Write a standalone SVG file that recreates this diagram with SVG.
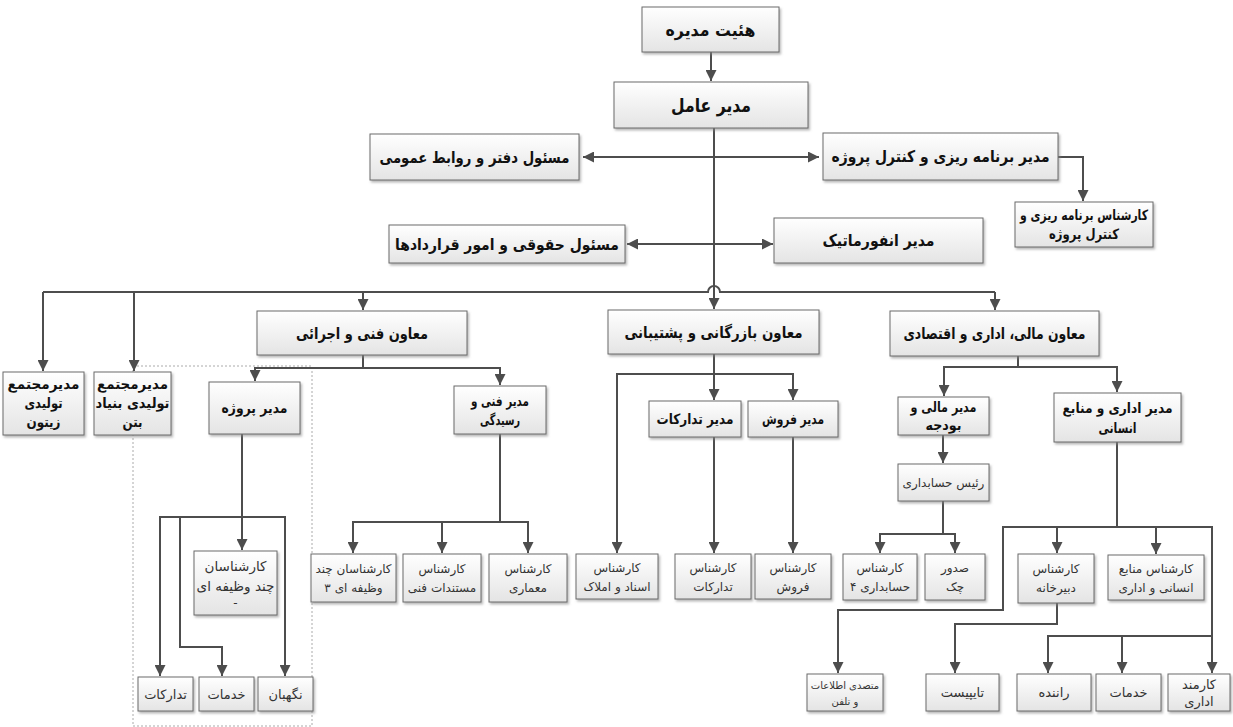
<svg xmlns="http://www.w3.org/2000/svg" width="1233" height="727" viewBox="0 0 1233 727">
<defs>
<linearGradient id="g" x1="0" y1="0" x2="0" y2="1">
<stop offset="0" stop-color="#ffffff"/>
<stop offset="1" stop-color="#e4e4e4"/>
</linearGradient>
<filter id="sh" x="-10%" y="-10%" width="130%" height="140%">
<feDropShadow dx="1.5" dy="2" stdDeviation="1" flood-color="#888" flood-opacity="0.6"/>
</filter>
<marker id="a" viewBox="0 0 10 10" refX="10" refY="5" markerWidth="11" markerHeight="11" markerUnits="userSpaceOnUse" orient="auto-start-reverse">
<path d="M0,0 L10,5 L0,10 z" fill="#4d4d4d"/>
</marker>
<style>
.b{fill:url(#g);stroke:#6a6a6a;stroke-width:1;filter:url(#sh)}
.t{font-family:"DejaVu Sans",sans-serif;font-weight:bold;font-size:16px;text-anchor:middle;fill:#111;direction:rtl}
.m{font-size:14px}
.s{font-family:"DejaVu Sans",sans-serif;font-weight:normal;font-size:12px;text-anchor:middle;fill:#333;direction:rtl}
.c{fill:none;stroke:#4d4d4d;stroke-width:2}
.e{marker-end:url(#a)}
.d{marker-start:url(#a);marker-end:url(#a)}
.dot{fill:none;stroke:#aaa;stroke-width:1;stroke-dasharray:2,2}
</style>
</defs>
<rect width="1233" height="727" fill="#fff"/>
<rect class="dot" x="133" y="366" width="179" height="360"/>

<g id="connectors">
<path class="c e" d="M711,52 V81"/>
<path class="c e" d="M714,128 V309"/>
<path class="c d" d="M583,157 H819"/>
<path class="c d" d="M627,244 H773"/>
<path class="c e" d="M1058,157 H1083 V201"/>
<path class="c" d="M43,292 H708 A6,6 0 0 1 720,292 H995"/>
<path class="c e" d="M43,292 V371"/>
<path class="c e" d="M134,292 V371"/>
<path class="c e" d="M363,292 V310"/>
<path class="c e" d="M995,292 V310"/>
<path class="c" d="M363,355 V368 H255"/>
<path class="c e" d="M255,367 V381"/>
<path class="c e" d="M363,368 H500 V385"/>
<path class="c" d="M242,434 V517"/>
<path class="c" d="M160,517 H285"/>
<path class="c e" d="M242,517 V550"/>
<path class="c e" d="M160,516 V676"/>
<path class="c e" d="M180,517 V647 H222 V676"/>
<path class="c e" d="M285,516 V676"/>
<path class="c" d="M500,434 V522 H353"/>
<path class="c" d="M500,522 H528"/>
<path class="c e" d="M353,521 V553"/>
<path class="c e" d="M442,522 V553"/>
<path class="c e" d="M528,521 V553"/>
<path class="c" d="M714,354 V374 H617"/>
<path class="c e" d="M617,373 V553"/>
<path class="c e" d="M714,374 V400"/>
<path class="c e" d="M714,374 H793 V400"/>
<path class="c e" d="M714,437 V553"/>
<path class="c e" d="M793,437 V553"/>
<path class="c" d="M1018,356 V367 H944"/>
<path class="c e" d="M944,366 V396"/>
<path class="c e" d="M1018,367 H1117 V392"/>
<path class="c e" d="M943,435 V463"/>
<path class="c" d="M943,501 V534 H880"/>
<path class="c e" d="M880,533 V553"/>
<path class="c e" d="M943,534 H955 V553"/>
<path class="c" d="M1117,442 V527 H1003"/>
<path class="c" d="M1117,527 H1212"/>
<path class="c e" d="M1057,527 V553"/>
<path class="c e" d="M1156,527 V554"/>
<path class="c e" d="M1003,526 V610 H838 V673"/>
<path class="c e" d="M1212,526 V673"/>
<path class="c e" d="M1057,603 V624 H955 V673"/>
<path class="c e" d="M1212,636 H1048 V673"/>
<path class="c e" d="M1122,636 V673"/>
</g>

<g id="n1"><rect class="b" x="642" y="7" width="137" height="45"/><text class="t" x="710.5" y="36" style="font-size:17px" textLength="90" lengthAdjust="spacingAndGlyphs">هئیت مدیره</text></g>
<g id="n2"><rect class="b" x="614" y="82" width="194" height="46"/><text class="t" x="711" y="112" style="font-size:19px" textLength="80" lengthAdjust="spacingAndGlyphs">مدیر عامل</text></g>
<g id="n3"><rect class="b" x="370" y="134" width="209" height="46"/><text class="t" x="474.5" y="163" textLength="190" lengthAdjust="spacingAndGlyphs">مسئول دفتر و روابط عمومی</text></g>
<g id="n4"><rect class="b" x="823" y="133" width="235" height="47"/><text class="t" x="940.5" y="162" textLength="218" lengthAdjust="spacingAndGlyphs">مدیر برنامه ریزی و کنترل پروژه</text></g>
<g id="n5"><rect class="b" x="1015" y="202" width="138" height="45"/><text class="t m" x="1084" y="220" textLength="128" lengthAdjust="spacingAndGlyphs">کارشناس برنامه ریزی و</text><text class="t m" x="1084" y="239" textLength="70" lengthAdjust="spacingAndGlyphs">کنترل پروژه</text></g>
<g id="n6"><rect class="b" x="389" y="225" width="236" height="38"/><text class="t" x="507" y="250" textLength="224" lengthAdjust="spacingAndGlyphs">مسئول حقوقی و امور قراردادها</text></g>
<g id="n7"><rect class="b" x="774" y="218" width="209" height="45"/><text class="t" x="878.5" y="246" textLength="112" lengthAdjust="spacingAndGlyphs">مدیر انفورماتیک</text></g>
<g id="n8"><rect class="b" x="257" y="311" width="210" height="44"/><text class="t" x="362" y="339" textLength="132" lengthAdjust="spacingAndGlyphs">معاون فنی و اجرائی</text></g>
<g id="n9"><rect class="b" x="608" y="310" width="211" height="44"/><text class="t" x="713.5" y="338" textLength="178" lengthAdjust="spacingAndGlyphs">معاون بازرگانی و پشتیبانی</text></g>
<g id="n10"><rect class="b" x="890" y="311" width="209" height="45"/><text class="t" x="994.5" y="339" textLength="182" lengthAdjust="spacingAndGlyphs">معاون مالی، اداری و اقتصادی</text></g>
<g id="n11"><rect class="b" x="3" y="372" width="81" height="63"/><text class="t m" x="43.5" y="389" textLength="72" lengthAdjust="spacingAndGlyphs">مدیرمجتمع</text><text class="t m" x="43.5" y="408" textLength="38" lengthAdjust="spacingAndGlyphs">تولیدی</text><text class="t m" x="43.5" y="427" textLength="34" lengthAdjust="spacingAndGlyphs">زیتون</text></g>
<g id="n12"><rect class="b" x="94" y="372" width="77" height="63"/><text class="t m" x="132.5" y="389" textLength="71" lengthAdjust="spacingAndGlyphs">مدیرمجتمع</text><text class="t m" x="132.5" y="408" textLength="74" lengthAdjust="spacingAndGlyphs">تولیدی بنیاد</text><text class="t m" x="132.5" y="427" textLength="20" lengthAdjust="spacingAndGlyphs">بتن</text></g>
<g id="n13"><rect class="b" x="209" y="382" width="91" height="52"/><text class="t m" x="254.5" y="413" textLength="66" lengthAdjust="spacingAndGlyphs">مدیر پروژه</text></g>
<g id="n14"><rect class="b" x="454" y="386" width="92" height="48"/><text class="t m" x="500" y="406" textLength="58" lengthAdjust="spacingAndGlyphs">مدیر فنی و</text><text class="t m" x="500" y="425" textLength="40" lengthAdjust="spacingAndGlyphs">رسیدگی</text></g>
<g id="n15"><rect class="b" x="649" y="401" width="92" height="36"/><text class="t m" x="695" y="424" textLength="77" lengthAdjust="spacingAndGlyphs">مدیر تدارکات</text></g>
<g id="n16"><rect class="b" x="748" y="401" width="90" height="36"/><text class="t m" x="793" y="424" textLength="62" lengthAdjust="spacingAndGlyphs">مدیر فروش</text></g>
<g id="n17"><rect class="b" x="898" y="397" width="91" height="38"/><text class="t m" x="943.5" y="412" textLength="66" lengthAdjust="spacingAndGlyphs">مدیر مالی و</text><text class="t m" x="943.5" y="430" textLength="36" lengthAdjust="spacingAndGlyphs">بودجه</text></g>
<g id="n18"><rect class="b" x="1054" y="393" width="127" height="49"/><text class="t m" x="1117.5" y="413" textLength="110" lengthAdjust="spacingAndGlyphs">مدیر اداری و منابع</text><text class="t m" x="1117.5" y="433" textLength="38" lengthAdjust="spacingAndGlyphs">انسانی</text></g>
<g id="n19"><rect class="b" x="898" y="464" width="91" height="37"/><text class="s" x="943.5" y="487">رئیس حسابداری</text></g>
<g id="n20"><rect class="b" x="194" y="551" width="83" height="64"/><text class="s" x="235.5" y="571" style="font-size:13.5px">کارشناسان</text><text class="s" x="235.5" y="591" style="font-size:13.5px">چند وظیفه ای</text><text class="s" x="235.5" y="607">-</text></g>
<g id="n21"><rect class="b" x="138" y="677" width="55" height="34"/><text class="s" x="165.5" y="699" style="font-size:13px">تدارکات</text></g>
<g id="n22"><rect class="b" x="199" y="677" width="55" height="34"/><text class="s" x="226.5" y="699" style="font-size:13px">خدمات</text></g>
<g id="n23"><rect class="b" x="258" y="677" width="55" height="34"/><text class="s" x="285.5" y="699" style="font-size:13px">نگهبان</text></g>
<g id="n24"><rect class="b" x="311" y="554" width="85" height="48"/><text class="s" x="353.5" y="573">کارشناسان چند</text><text class="s" x="353.5" y="592">وظیفه ای ۳</text></g>
<g id="n25"><rect class="b" x="403" y="554" width="78" height="48"/><text class="s" x="442" y="573">کارشناس</text><text class="s" x="442" y="592">مستندات فنی</text></g>
<g id="n26"><rect class="b" x="489" y="554" width="78" height="48"/><text class="s" x="528" y="573">کارشناس</text><text class="s" x="528" y="592">معماری</text></g>
<g id="n27"><rect class="b" x="576" y="554" width="82" height="45"/><text class="s" x="617" y="572">کارشناس</text><text class="s" x="617" y="591">اسناد و املاک</text></g>
<g id="n28"><rect class="b" x="675" y="554" width="76" height="45"/><text class="s" x="713" y="572">کارشناس</text><text class="s" x="713" y="591">تدارکات</text></g>
<g id="n29"><rect class="b" x="755" y="554" width="76" height="45"/><text class="s" x="793" y="572">کارشناس</text><text class="s" x="793" y="591">فروش</text></g>
<g id="n30"><rect class="b" x="843" y="554" width="74" height="46"/><text class="s" x="880" y="572">کارشناس</text><text class="s" x="880" y="591">حسابداری ۴</text></g>
<g id="n31"><rect class="b" x="925" y="554" width="60" height="46"/><text class="s" x="955" y="572">صدور</text><text class="s" x="955" y="591">چک</text></g>
<g id="n32"><rect class="b" x="1018" y="554" width="76" height="49"/><text class="s" x="1056" y="573">کارشناس</text><text class="s" x="1056" y="592">دبیرخانه</text></g>
<g id="n33"><rect class="b" x="1108" y="555" width="96" height="45"/><text class="s" x="1156" y="573">کارشناس منابع</text><text class="s" x="1156" y="592">انسانی و اداری</text></g>
<g id="n34"><rect class="b" x="807" y="674" width="76" height="37"/><text class="s" x="845" y="689" style="font-size:10px">متصدی اطلاعات</text><text class="s" x="845" y="705" style="font-size:10px">و تلفن</text></g>
<g id="n35"><rect class="b" x="926" y="674" width="73" height="37"/><text class="s" x="962.5" y="697" style="font-size:13px">تایپیست</text></g>
<g id="n36"><rect class="b" x="1017" y="674" width="74" height="37"/><text class="s" x="1054" y="697" style="font-size:13px">راننده</text></g>
<g id="n37"><rect class="b" x="1096" y="674" width="65" height="37"/><text class="s" x="1128.5" y="697" style="font-size:13px">خدمات</text></g>
<g id="n38"><rect class="b" x="1168" y="674" width="62" height="37"/><text class="s" x="1199" y="689" style="font-size:13px">کارمند</text><text class="s" x="1199" y="706" style="font-size:13px">اداری</text></g>
</svg>
